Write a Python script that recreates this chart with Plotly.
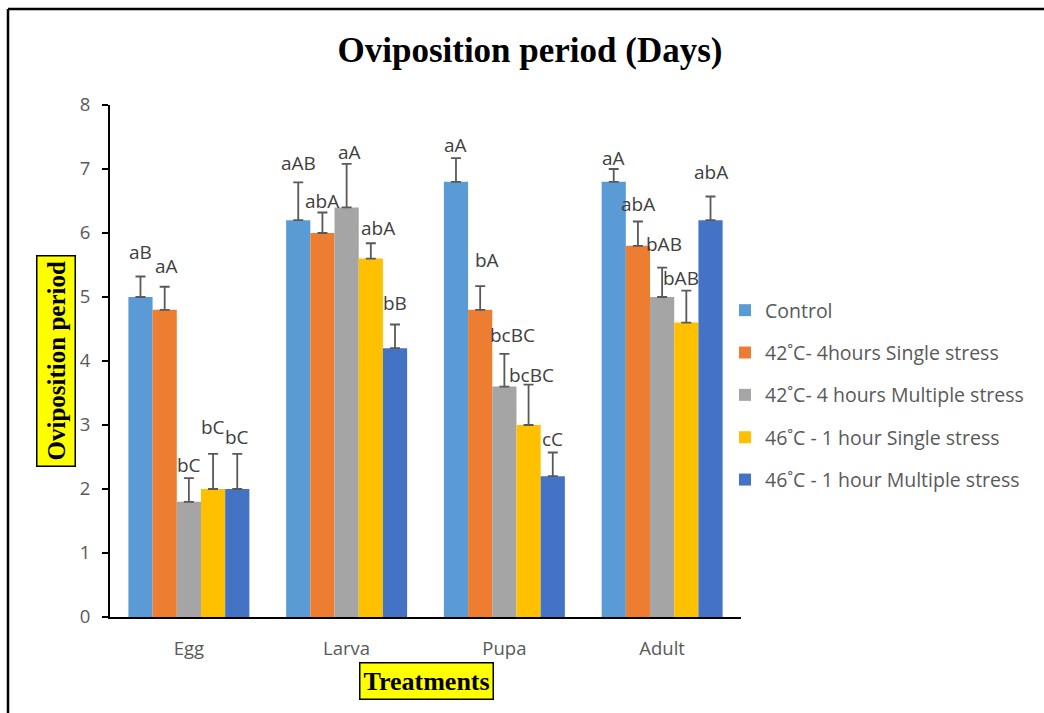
import plotly.graph_objects as go

categories = ["Egg", "Larva", "Pupa", "Adult"]
series_names = [
    "Control",
    "42˚C- 4hours Single stress",
    "42˚C- 4 hours Multiple stress",
    "46˚C - 1 hour Single stress",
    "46˚C - 1 hour Multiple stress",
]
control = [5.0, 6.2, 6.8, 6.8]
single_42 = [4.8, 6.0, 4.8, 5.8]
multiple_42 = [1.8, 6.4, 3.6, 5.0]
single_46 = [2.0, 5.6, 3.0, 4.6]
multiple_46 = [2.0, 4.2, 2.2, 6.2]

err_control = [0.32, 0.59, 0.37, 0.20]
err_single_42 = [0.36, 0.32, 0.37, 0.38]
err_multiple_42 = [0.37, 0.68, 0.51, 0.46]
err_single_46 = [0.55, 0.24, 0.63, 0.50]
err_multiple_46 = [0.55, 0.37, 0.37, 0.37]

lab_control = ["aB", "aAB", "aA", "aA"]
lab_single_42 = ["aA", "abA", "bA", "abA"]
lab_multiple_42 = ["bC", "aA", "bcBC", "bAB"]
lab_single_46 = ["bC", "abA", "bcBC", "bAB"]
lab_multiple_46 = ["bC", "bB", "cC", "abA"]

values = [control, single_42, multiple_42, single_46, multiple_46]
errors = [err_control, err_single_42, err_multiple_42, err_single_46, err_multiple_46]
labels = [lab_control, lab_single_42, lab_multiple_42, lab_single_46, lab_multiple_46]
colors = ["#5B9BD5", "#ED7D31", "#A5A5A5", "#FFC000", "#4472C4"]

# label placement tweaks (pixels): [series][category]
label_dy = [[25, 19, 13, 11], [21, 12, 26, 17], [13, 12, 19, 24], [27, 15, 10, 13], [17, 22, 14, 25]]
label_dx = [[0, 0, 0, 0], [2, 0, 7, 0], [0, 3, 8, 2], [0, 7, 3, -5], [0, 0, 0, 0]]

# plot area in pixels
L, R, T, B = 110, 741, 105, 617
W, H = 1044, 713
pw, ph = R - L, B - T


def px(x):
    return (x - L) / pw


def py(y):
    return (B - y) / ph


bargap = 0.233
nser = len(values)
bw = (1 - bargap) / nser

fig = go.Figure()
for i in range(nser):
    fig.add_trace(go.Bar(
        x=categories, y=values[i], name=series_names[i],
        marker=dict(color=colors[i], line=dict(width=0)),
        error_y=dict(type="data", array=errors[i], arrayminus=[0] * len(categories),
                     symmetric=False, color="#595959", thickness=1.8, width=5),
        legendgroup=str(i),
    ))

annotations = []
for i in range(nser):
    for j in range(len(categories)):
        annotations.append(dict(
            x=j + (i - (nser - 1) / 2) * bw, y=values[i][j] + errors[i][j],
            xref="x", yref="y", text=labels[i][j], showarrow=False,
            xanchor="center", yanchor="middle",
            xshift=label_dx[i][j], yshift=label_dy[i][j],
            font=dict(family="Open Sans", size=19, color="#404040"),
        ))

# y axis title box
annotations.append(dict(
    x=px(56), y=py(361), xref="paper", yref="paper", text="<b>Oviposition period</b>",
    textangle=-90, showarrow=False, xanchor="center", yanchor="middle",
    font=dict(family="Liberation Serif", size=25, color="black"),
    bgcolor="#FFFF00", bordercolor="black", borderwidth=1.5, borderpad=5,
))
# x axis title box
annotations.append(dict(
    x=px(426), y=py(681), xref="paper", yref="paper", text="<b>Treatments</b>",
    showarrow=False, xanchor="center", yanchor="middle",
    font=dict(family="Liberation Serif", size=26, color="black"),
    bgcolor="#FFFF00", bordercolor="black", borderwidth=1.5, borderpad=3,
))

shapes = [
    dict(type="line", xref="paper", yref="paper", x0=px(8), x1=px(8), y0=py(W), y1=py(9),
         line=dict(color="black", width=2.5)),
    dict(type="line", xref="paper", yref="paper", x0=px(8), x1=px(W + 5), y0=py(9), y1=py(9),
         line=dict(color="black", width=2.5)),
]

fig.update_layout(
    width=W, height=H,
    margin=dict(l=L, r=W - R, t=T, b=H - B, pad=0),
    paper_bgcolor="white", plot_bgcolor="white",
    barmode="group", bargap=bargap, bargroupgap=0,
    title=dict(text="<b>Oviposition period (Days)</b>", x=530 / W, xref="container",
               y=1 - 50 / H, yref="container", xanchor="center", yanchor="middle",
               font=dict(family="Liberation Serif", size=35, color="black")),
    xaxis=dict(showline=True, linecolor="black", linewidth=2, ticks="",
               tickfont=dict(family="Open Sans", size=18.5, color="#595959"),
               ticklabelstandoff=14, showgrid=False, zeroline=False),
    yaxis=dict(range=[0, 8], dtick=1, showline=True, linecolor="black", linewidth=2,
               ticks="outside", ticklen=6, tickwidth=1.5, tickcolor="black",
               tickfont=dict(family="Open Sans", size=18.5, color="#595959"),
               ticklabelstandoff=8, showgrid=False, zeroline=False),
    legend=dict(x=px(725), y=py(291), xanchor="left", yanchor="top",
                traceorder="grouped", tracegroupgap=14,
                font=dict(family="Open Sans", size=19.5, color="#595959"),
                bgcolor="rgba(0,0,0,0)", itemwidth=30),
    annotations=annotations,
    shapes=shapes,
    showlegend=True,
)

fig.write_html("out.html")
